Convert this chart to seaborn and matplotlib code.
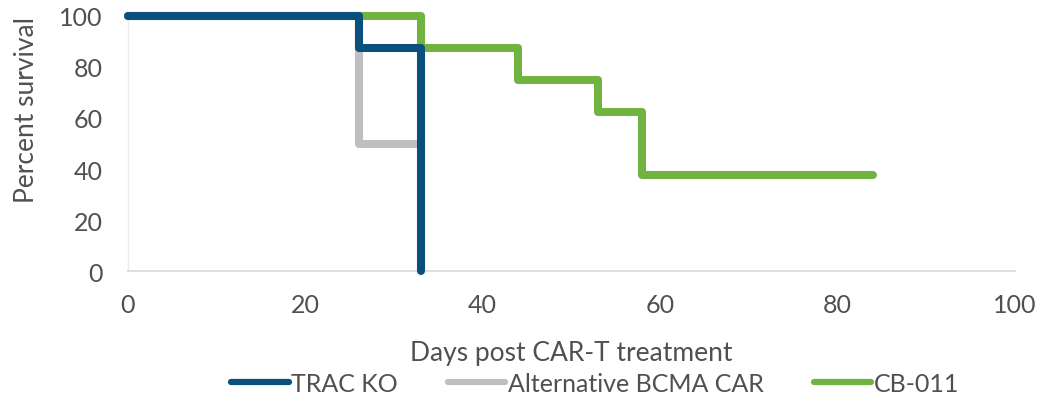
import pandas as pd
import matplotlib.pyplot as plt
import seaborn as sns
from matplotlib.lines import Line2D

# Survival steps (days, percent)
trac_days = [0, 26, 33]
trac_surv = [100, 87.5, 0]
alt_days = [0, 26, 33]
alt_surv = [100, 50, 50]
cb_days = [0, 33, 44, 53, 58, 84]
cb_surv = [100, 87.5, 75, 62.5, 37.5, 37.5]

groups = ["TRAC KO", "Alternative BCMA CAR", "CB-011"]
colors = {"TRAC KO": "#0B4F7D", "Alternative BCMA CAR": "#BFBFBF", "CB-011": "#71B340"}

df = pd.concat([
    pd.DataFrame({"days": trac_days, "surv": trac_surv, "group": "TRAC KO"}),
    pd.DataFrame({"days": alt_days, "surv": alt_surv, "group": "Alternative BCMA CAR"}),
    pd.DataFrame({"days": cb_days, "surv": cb_surv, "group": "CB-011"}),
])

sns.set_style("white")
plt.rcParams['font.family'] = ['Lato', 'DejaVu Sans']
txt = "#505050"

fig = plt.figure(figsize=(10.48, 4.02), dpi=100)
ax = fig.add_axes([0.122, 0.323, 0.8465, 0.635])

# draw gray, green, then blue on top
for g, z in [("Alternative BCMA CAR", 2), ("CB-011", 3), ("TRAC KO", 4)]:
    sub = df[df["group"] == g]
    sns.lineplot(data=sub, x="days", y="surv", ax=ax, color=colors[g], lw=5.8,
                 drawstyle="steps-post", estimator=None, sort=False,
                 solid_capstyle="round", solid_joinstyle="round",
                 clip_on=False, zorder=z)

ax.set_xlim(0, 100)
ax.set_ylim(0, 100)
ax.set_xticks(range(0, 101, 20))
ax.set_yticks(range(0, 101, 20))
ax.tick_params(axis="x", labelsize=18, colors=txt, length=0, pad=16)
ax.tick_params(axis="y", labelsize=18, colors=txt, length=0, pad=18)
ax.set_xlabel("Days post CAR-T treatment", fontsize=19, color=txt)
ax.set_ylabel("Percent survival", fontsize=19, color=txt)
ax.xaxis.set_label_coords(0.5, -0.27)
ax.yaxis.set_label_coords(-0.1, 0.635)

for s in ["top", "right"]:
    ax.spines[s].set_visible(False)
ax.spines["bottom"].set_color("#D9D9D9")
ax.spines["bottom"].set_linewidth(1.2)
ax.spines["left"].set_color("#EDEDED")
ax.spines["left"].set_linewidth(1.0)

handles = [Line2D([0], [0], color=colors[g], lw=4.5, solid_capstyle="round") for g in groups]
fig.legend(handles, groups, loc="lower center", bbox_to_anchor=(0.568, -0.04), ncol=3,
           frameon=False, fontsize=18, handlelength=2.3, handletextpad=0.1, columnspacing=2.0,
           labelcolor=txt)

fig.savefig("out.png", dpi=100)
